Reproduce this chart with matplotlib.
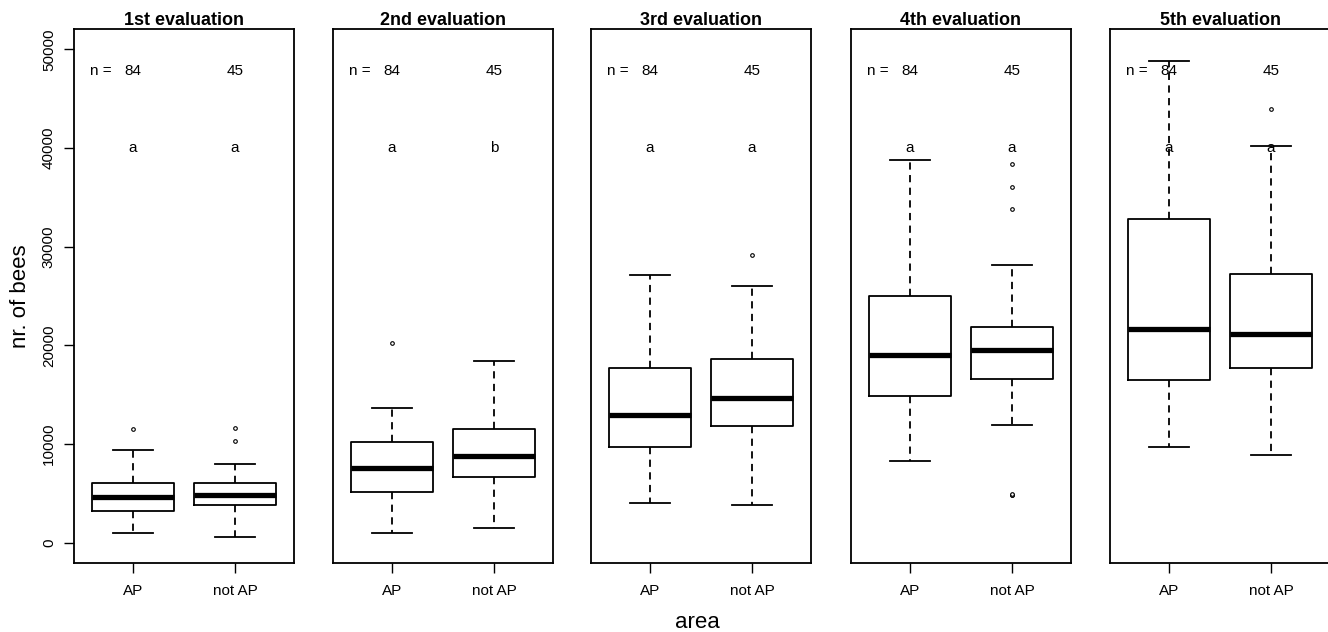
import matplotlib.pyplot as plt

plt.rcParams['font.family'] = ['Liberation Sans', 'DejaVu Sans']

# Data (boxplot stats per evaluation, AP / not AP)
titles = ['1st evaluation', '2nd evaluation', '3rd evaluation', '4th evaluation', '5th evaluation']
groups = ['AP', 'not AP']
n_counts = ['84', '45']
letters = [['a', 'a'], ['a', 'b'], ['a', 'a'], ['a', 'a'], ['a', 'a']]

whislo = [[1000, 600], [1000, 1450], [4050, 3800], [8300, 11900], [9750, 8900]]
q1 = [[3200, 3800], [5100, 6700], [9750, 11800], [14850, 16600], [16450, 17750]]
med = [[4650, 4850], [7550, 8750], [12950, 14700], [19050, 19550], [21700, 21150]]
q3 = [[6100, 6100], [10200, 11550], [17750, 18650], [25050, 21850], [32800, 27200]]
whishi = [[9350, 7950], [13650, 18400], [27100, 26050], [38750, 28100], [48850, 40250]]
fliers = [[[11500], [11650, 10350]],
          [[20250], []],
          [[], [29150]],
          [[], [38400, 36100, 33800, 4800, 4850, 4900]],
          [[], [44000]]]

fig = plt.figure(figsize=(13.28, 6.32), dpi=100)
lefts = [74, 333, 591, 851, 1110]
W, H = 1328, 632

for i, title in enumerate(titles):
    ax = fig.add_axes([lefts[i] / W, (H - 563) / H, 220 / W, 534 / H])
    stats = []
    for j in range(2):
        stats.append(dict(med=med[i][j], q1=q1[i][j], q3=q3[i][j],
                          whislo=whislo[i][j], whishi=whishi[i][j],
                          fliers=fliers[i][j]))
    ax.bxp(stats, positions=[1, 2], widths=0.8, showfliers=True,
           boxprops=dict(color='black', linewidth=1.3),
           medianprops=dict(color='black', linewidth=3.8, solid_capstyle='butt'),
           whiskerprops=dict(color='black', linewidth=1.3, linestyle=(0, (4, 3))),
           capprops=dict(color='black', linewidth=1.3),
           capwidths=0.4,
           flierprops=dict(marker='o', markersize=2.6, markerfacecolor='white',
                           markeredgecolor='black', markeredgewidth=0.8))
    ax.set_xlim(0.42, 2.58)
    ax.set_ylim(-2050, 52060)
    ax.set_xticks([1, 2])
    ax.set_xticklabels(groups, fontsize=11)
    ax.tick_params(axis='x', length=7, width=1, pad=8)
    for sp in ax.spines.values():
        sp.set_linewidth(1.3)
    if i == 0:
        ax.set_yticks([0, 10000, 20000, 30000, 40000, 50000])
        ax.set_yticklabels(['0', '10000', '20000', '30000', '40000', '50000'],
                           rotation=90, va='center', fontsize=11)
        ax.tick_params(axis='y', length=7, width=1, pad=6)
        ax.set_ylabel('nr. of bees', fontsize=16, labelpad=8)
    else:
        ax.set_yticks([])
    ax.set_title(title, fontsize=13, fontweight='bold', pad=2)

    ax.text(0.685, 47800, 'n =', ha='center', va='center', fontsize=11)
    for j in range(2):
        ax.text(j + 1, 47800, n_counts[j], ha='center', va='center', fontsize=11)
        ax.text(j + 1, 40000, letters[i][j], ha='center', va='center', fontsize=11)

fig.text(697 / W, 1 - 622 / H, 'area', ha='center', va='center', fontsize=16)

fig.savefig('out.png', dpi=100)
